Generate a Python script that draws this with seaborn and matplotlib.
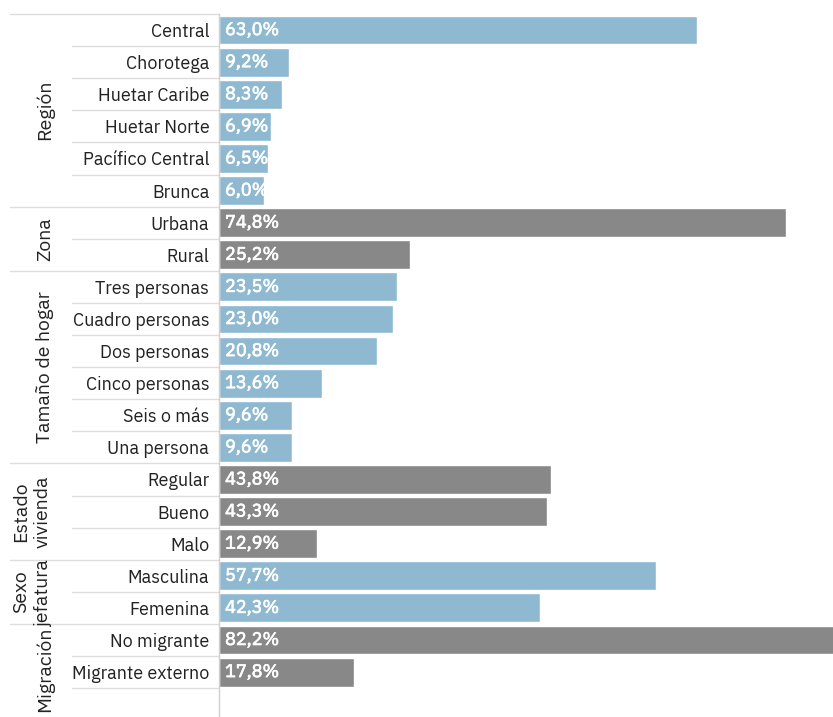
import matplotlib
matplotlib.use("Agg")
import matplotlib.pyplot as plt
import matplotlib.transforms as mtransforms
import matplotlib.patheffects as pe
import seaborn as sns
import pandas as pd

groups = ["Región", "Zona", "Tamaño de hogar", "Estado\nvivienda", "Sexo\njefatura", "Migración"]
region_labels = ["Central", "Chorotega", "Huetar Caribe", "Huetar Norte", "Pacífico Central", "Brunca"]
region_values = [63.0, 9.2, 8.3, 6.9, 6.5, 6.0]
zona_labels = ["Urbana", "Rural"]
zona_values = [74.8, 25.2]
tamano_labels = ["Tres personas", "Cuadro personas", "Dos personas", "Cinco personas", "Seis o más", "Una persona"]
tamano_values = [23.5, 23.0, 20.8, 13.6, 9.6, 9.6]
estado_labels = ["Regular", "Bueno", "Malo"]
estado_values = [43.8, 43.3, 12.9]
sexo_labels = ["Masculina", "Femenina"]
sexo_values = [57.7, 42.3]
migr_labels = ["No migrante", "Migrante externo"]
migr_values = [82.2, 17.8]

all_labels = [region_labels, zona_labels, tamano_labels, estado_labels, sexo_labels, migr_labels]
all_values = [region_values, zona_values, tamano_values, estado_values, sexo_values, migr_values]

rows = []
for gi, (g, labs, vals) in enumerate(zip(groups, all_labels, all_values)):
    for l, v in zip(labs, vals):
        rows.append({"grupo": g, "label": l, "value": v, "tono": "a" if gi % 2 == 0 else "b"})
df = pd.DataFrame(rows)

sns.set_style("white")
plt.rcParams["font.family"] = ["IBM Plex Sans", "Roboto", "DejaVu Sans"]

fig = plt.figure(figsize=(8.33, 7.17), dpi=100)
ax = fig.add_axes([219 / 833, 0, 1 - 219 / 833, 1 - 14 / 717])

sns.barplot(data=df, y="label", x="value", hue="tono",
            palette={"a": "#8fb9d1", "b": "#888888"}, dodge=False,
            width=0.9, legend=False, ax=ax, saturation=1, orient="h")

n = len(df)
ax.set_xlim(0, 81.0)
ax.set_ylim(n - 0.5 + 0.9, -0.5)
ax.set_xlabel("")
ax.set_ylabel("")
ax.set_xticks([])
ax.tick_params(axis="y", length=0, pad=7, labelsize=13, labelcolor="#222222")
for s in ["top", "right", "bottom"]:
    ax.spines[s].set_visible(False)
ax.spines["left"].set_color("#d0d0d0")
ax.spines["left"].set_linewidth(1)

# value labels
for i, v in enumerate(df["value"]):
    ax.text(0.8, i, f"{v:.1f}%".replace(".", ","), color="white", fontweight="bold",
            fontsize=13, va="center", ha="left", clip_on=True,
            path_effects=[pe.withStroke(linewidth=0.5, foreground="white")])

trans = mtransforms.blended_transform_factory(ax.transAxes, ax.transData)
x_inner = (72 - 219) / 614
x_group = (10 - 219) / 614

# separators and group labels
idx = 0
ax.plot([x_group, 0], [-0.5, -0.5], transform=trans, color="#dddddd", lw=1, clip_on=False)
for gi, labs in enumerate(all_labels):
    start = idx
    for k in range(len(labs)):
        idx += 1
        y = idx - 0.5
        last = (k == len(labs) - 1)
        xs = x_group if (last and gi < len(all_labels) - 1) else x_inner
        ax.plot([xs, 0], [y, y], transform=trans, color="#dddddd", lw=1, clip_on=False)
    center = (start + idx - 1) / 2
    if gi == len(all_labels) - 1:
        center = start + 0.92
    two = "\n" in groups[gi]
    xg = ((32 if two else 45) - 219) / 614
    ax.text(xg, center, groups[gi], transform=trans, rotation=90, ha="center", va="center",
            fontsize=14, color="#222222", linespacing=1.3, multialignment="center",
            fontweight="light")

fig.savefig("out.png", dpi=100)
